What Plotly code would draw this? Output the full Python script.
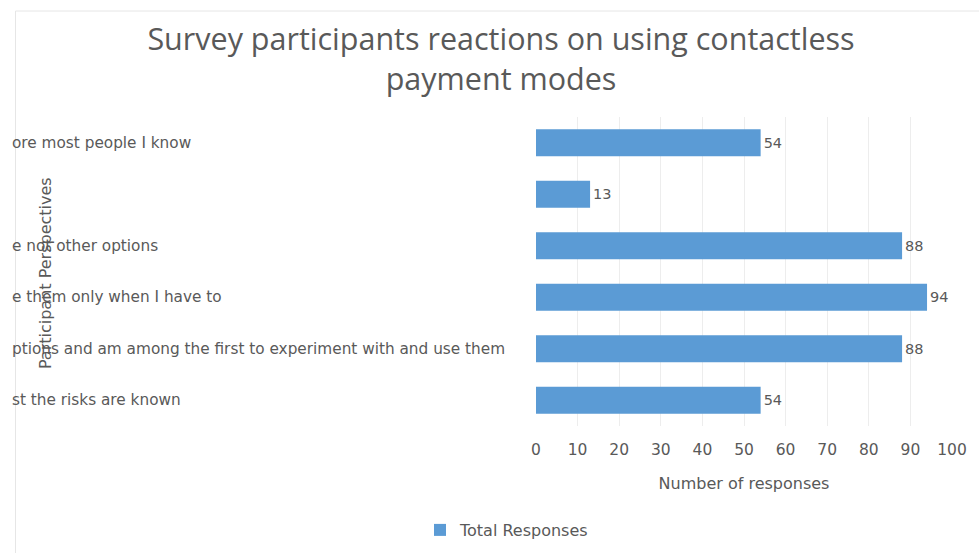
import plotly.graph_objects as go

# Category keys, the visible (clipped) label text and the response counts
categories = ["c1", "c2", "c3", "c4", "c5", "c6"]
label_text = [
    "ore most people I know",
    "",
    "e not other options",
    "e them only when I have to",
    "ptions and am among the first to experiment with and use them",
    "st the risks are known",
]
responses = [54, 13, 88, 94, 88, 54]

x_ticks = [0, 10, 20, 30, 40, 50, 60, 70, 80, 90, 100]

W, H = 979, 553
M_L, M_R, M_T, M_B = 536, 21, 117, 127
plot_w = W - M_L - M_R
plot_h = H - M_T - M_B

BAR = "#5b9bd5"
GRAY = "#595959"
FONT = "DejaVu Sans"
TITLE_FONT = "Open Sans"


def px_to_paper_x(px):
    return (px - M_L) / plot_w


def px_to_paper_y(py):
    return 1 - (py - M_T) / plot_h


fig = go.Figure()
fig.add_trace(go.Bar(
    x=responses,
    y=categories,
    orientation="h",
    name="Total Responses",
    marker=dict(color=BAR, line=dict(width=0)),
    text=[str(v) for v in responses],
    textposition="outside",
    textfont=dict(family=FONT, size=14.5, color=GRAY),
    cliponaxis=False,
    width=0.52,
))

# Left-aligned category labels, cut off by the chart's left edge
annotations = []
for cat, txt in zip(categories, label_text):
    if txt:
        annotations.append(dict(
            x=px_to_paper_x(2), xref="paper", xanchor="left",
            y=cat, yref="y", yanchor="middle",
            text=txt, showarrow=False,
            font=dict(family=FONT, size=15.3, color=GRAY),
        ))

# Vertical axis title
annotations.append(dict(
    x=px_to_paper_x(38), xref="paper", xanchor="center",
    y=px_to_paper_y(273), yref="paper", yanchor="middle",
    text="Participant Perspectives", textangle=-90, showarrow=False,
    font=dict(family=FONT, size=16, color=GRAY),
))

fig.update_layout(
    width=W, height=H,
    margin=dict(l=M_L, r=M_R, t=M_T, b=M_B),
    paper_bgcolor="white",
    plot_bgcolor="white",
    title=dict(
        text="Survey participants reactions on using contactless<br>payment modes",
        x=501 / W, xref="container", xanchor="center",
        y=1 - 50 / H, yref="container", yanchor="middle",
        font=dict(family=TITLE_FONT, size=30.5, color=GRAY),
    ),
    xaxis=dict(
        range=[0, 100],
        tickvals=x_ticks,
        showgrid=True, gridcolor="#ededed", gridwidth=1,
        zeroline=False, showline=False,
        ticklabelstandoff=12,
        tickfont=dict(family=FONT, size=15.5, color=GRAY),
        title=dict(text="Number of responses", standoff=20,
                   font=dict(family=FONT, size=16, color=GRAY)),
        fixedrange=True,
    ),
    yaxis=dict(
        categoryorder="array", categoryarray=categories,
        autorange="reversed",
        showticklabels=False, showgrid=False, zeroline=False, showline=False,
        fixedrange=True,
    ),
    showlegend=True,
    legend=dict(
        orientation="h",
        x=507 / W, xref="container", xanchor="center",
        y=1 - 530 / H, yref="container", yanchor="middle",
        font=dict(family=FONT, size=16, color=GRAY),
        itemwidth=30,
    ),
    annotations=annotations,
    shapes=[dict(
        type="rect", xref="paper", yref="paper",
        x0=px_to_paper_x(8), x1=px_to_paper_x(W + 10),
        y0=px_to_paper_y(H + 10), y1=px_to_paper_y(11),
        line=dict(color="#e6e6e6", width=1), fillcolor="rgba(0,0,0,0)",
        layer="below",
    )],
)

fig.write_html("out.html")
